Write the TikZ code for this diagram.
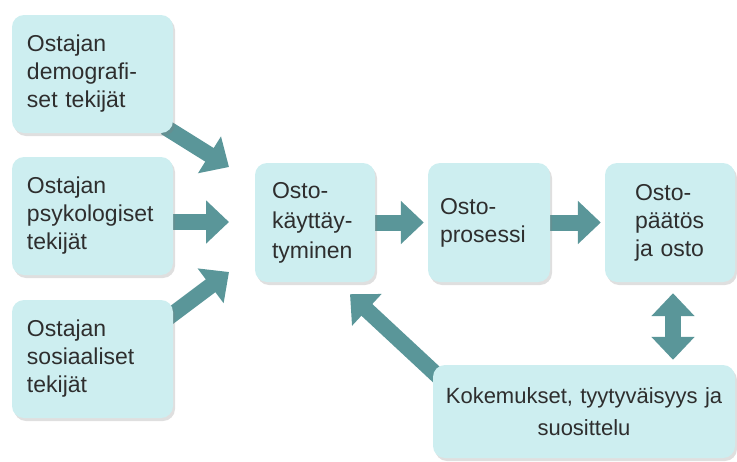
\documentclass[tikz,border=0pt]{standalone}
\usepackage{fontspec}
\setmainfont{Liberation Sans}
\usepackage{tikz}
\usetikzlibrary{arrows.meta,shadows,backgrounds}
\definecolor{boxfill}{HTML}{CDEEF0}
\definecolor{flowcol}{HTML}{5A9699}
\definecolor{txtcol}{HTML}{2E2E2E}
\tikzstyle{factor}=[rounded corners=12pt,fill=boxfill,drop shadow={shadow xshift=2pt,shadow yshift=-3pt,opacity=0.25},text=txtcol,align=left,inner ysep=0pt,minimum height=118pt,font=\fontsize{23}{28}\selectfont]
\tikzstyle{flow}=[draw=flowcol,line width=16pt,-{Triangle[width=42pt,length=23pt]}]
\tikzstyle{flowboth}=[draw=flowcol,line width=16pt,{Triangle[width=42pt,length=23pt]}-{Triangle[width=42pt,length=23pt]}]

\begin{document}
\begin{tikzpicture}[x=1pt,y=-1pt]
\useasboundingbox (0,0) rectangle (737,461);
% factors on the left
\node [factor,text width=131pt,inner xsep=15pt] (dem) at (92.5,74) {Ostajan\\demografi-\\set tekijät};
\node [factor,text width=131pt,inner xsep=15pt] (psy) at (92.5,216) {Ostajan\\psykologiset\\tekijät};
\node [factor,text width=131pt,inner xsep=15pt] (sos) at (92.5,359) {Ostajan\\sosiaaliset\\tekijät};
% the chain
\node [factor,text width=86pt,inner xsep=17pt,minimum height=119pt,font=\fontsize{23}{30}\selectfont] (kay) at (315,222.5) {Osto-\\käyttäy-\\tyminen};
\node [factor,text width=98pt,inner xsep=12pt,minimum height=119pt] (pro) at (489,222.5) {Osto-\\prosessi};
\node [factor,text width=70pt,inner xsep=30pt,minimum height=119pt] (paa) at (670,222.5) {Osto-\\päätös\\ja osto};
\node [factor,text width=280pt,inner xsep=11pt,minimum height=93pt,align=center,font=\fontsize{22}{32}\selectfont] (kok) at (584,411.5) {Kokemukset, tyytyväisyys ja\\suosittelu};

\coordinate (in1) at (229,167);
\coordinate (in2) at (229,222);
\coordinate (in3) at (229,272);
\coordinate (fb) at ([xshift=35pt,yshift=-12pt]kay.south);

\begin{scope}[on background layer]
\draw [flow] ([xshift=-8pt,yshift=6pt]dem.south east) -- (in1);
\draw [flow] ([xshift=-8pt]psy.east |- in2) -- (in2);
\draw [flow] ([xshift=-8pt,yshift=-20pt]sos.north east) -- (in3);
\draw [flow,shorten >=4pt] (kay.east) -- (pro.west);
\draw [flow,shorten >=4pt] (pro.east) -- (paa.west);
\draw [flowboth,shorten <=11pt,shorten >=5pt] ([xshift=3pt]paa.south) -- ([xshift=3pt]paa.south |- kok.north);
\draw [flow] ([xshift=6pt,yshift=-12pt]kok.north west) -- (fb);
\end{scope}
\end{tikzpicture}
\end{document}
